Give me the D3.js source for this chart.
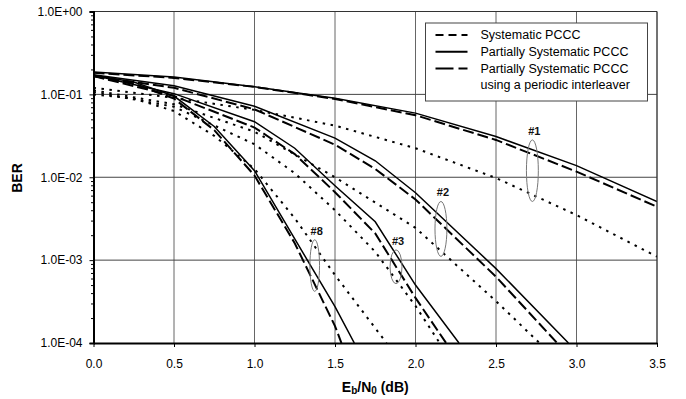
<!DOCTYPE html>
<html>
<head>
<meta charset="utf-8">
<script src="https://cdn.jsdelivr.net/npm/d3@7"></script>
<style>
  html, body { margin: 0; padding: 0; background: #fff; }
  svg { display: block; font-family: "Liberation Sans", Arial, sans-serif; }
</style>
</head>
<body>
<div id="chart"></div>
<script>
// Eb/N0 (dB) and BER, one pair of arrays per curve
const ebn0_1 = [0, 0.5, 1.0, 1.5, 2.0, 2.5, 3.0, 3.5];
const ber1Solid = [0.186, 0.162, 0.124, 0.090, 0.0594, 0.031, 0.0138, 0.0051];
const ber1Dash = [0.182, 0.158, 0.123, 0.088, 0.056, 0.0282, 0.0117, 0.0044];
const ber1Sys = [0.12, 0.091, 0.065, 0.042, 0.0224, 0.0098, 0.0035, 0.0011];

const ebn0_2Solid = [0, 0.5, 1.0, 1.5, 1.75, 2.0, 2.5, 2.95];
const ber2Solid = [0.172, 0.127, 0.072, 0.0297, 0.0158, 0.0065, 0.00079, 0.0001];
const ebn0_2Dash = [0, 0.5, 1.0, 1.5, 1.75, 2.0, 2.5, 2.88];
const ber2Dash = [0.166, 0.12, 0.066, 0.0247, 0.0126, 0.0054, 0.00063, 0.0001];
const ebn0_2Sys = [0, 0.5, 1.0, 1.5, 2.0, 2.5, 2.77];
const ber2Sys = [0.112, 0.076, 0.0355, 0.010, 0.00245, 0.00032, 0.0001];

const ebn0_3Solid = [0, 0.5, 1.0, 1.25, 1.5, 1.75, 2.0, 2.27];
const ber3Solid = [0.17, 0.102, 0.0468, 0.0224, 0.0079, 0.0029, 0.0005, 0.0001];
const ebn0_3Dash = [0, 0.5, 1.0, 1.25, 1.5, 1.75, 2.0, 2.19];
const ber3Dash = [0.166, 0.0955, 0.0398, 0.019, 0.0066, 0.0021, 0.00035, 0.0001];
const ebn0_3Sys = [0, 0.5, 1.0, 1.25, 1.5, 1.75, 2.0, 2.15];
const ber3Sys = [0.107, 0.071, 0.025, 0.0112, 0.004, 0.00126, 0.00028, 0.0001];

const ebn0_8Solid = [0, 0.25, 0.5, 0.75, 1.0, 1.25, 1.5, 1.62];
const ber8Solid = [0.17, 0.141, 0.0955, 0.041, 0.012, 0.0018, 0.000275, 0.0001];
const ebn0_8Dash = [0, 0.25, 0.5, 0.75, 1.0, 1.25, 1.5, 1.54];
const ber8Dash = [0.166, 0.135, 0.089, 0.037, 0.0105, 0.0016, 0.00016, 0.0001];
const ebn0_8Sys = [0, 0.25, 0.5, 0.75, 1.0, 1.25, 1.5, 1.82];
const ber8Sys = [0.1, 0.089, 0.063, 0.0316, 0.0126, 0.0032, 0.00066, 0.0001];

const xTicks = [0, 0.5, 1.0, 1.5, 2.0, 2.5, 3.0, 3.5];
const yTicks = [1, 1e-1, 1e-2, 1e-3, 1e-4];
const legendLabels = ['Systematic PCCC', 'Partially Systematic PCCC', 'Partially Systematic PCCC', 'using a periodic interleaver'];

// ellipse annotations: label, centre Eb/N0, half width (dB), top and bottom BER
const markLabels = ['#1', '#2', '#3', '#8'];
const markX = [2.726, 2.158, 1.879, 1.374];
const markHalfW = [0.037, 0.037, 0.037, 0.03];
const markTop = [0.0282, 0.0051, 0.00133, 0.00176];
const markBottom = [0.0051, 0.00111, 0.00052, 0.00042];

const styles = {
  solid: { dash: null, width: 1.5 },
  dash: { dash: '11,4', width: 2 },
  sys: { dash: '2.5,5.5', width: 2 }
};

const series = [
  { x: ebn0_1, y: ber1Sys, style: 'sys' },
  { x: ebn0_2Sys, y: ber2Sys, style: 'sys' },
  { x: ebn0_3Sys, y: ber3Sys, style: 'sys' },
  { x: ebn0_8Sys, y: ber8Sys, style: 'sys' },
  { x: ebn0_1, y: ber1Dash, style: 'dash' },
  { x: ebn0_2Dash, y: ber2Dash, style: 'dash' },
  { x: ebn0_3Dash, y: ber3Dash, style: 'dash' },
  { x: ebn0_8Dash, y: ber8Dash, style: 'dash' },
  { x: ebn0_1, y: ber1Solid, style: 'solid' },
  { x: ebn0_2Solid, y: ber2Solid, style: 'solid' },
  { x: ebn0_3Solid, y: ber3Solid, style: 'solid' },
  { x: ebn0_8Solid, y: ber8Solid, style: 'solid' }
];

const width = 686;
const height = 399;
const margin = { top: 11.5, right: 29, bottom: 56, left: 93.5 };
const innerWidth = width - margin.left - margin.right;
const innerHeight = height - margin.top - margin.bottom;

const svg = d3.select('#chart')
  .append('svg')
  .attr('width', width)
  .attr('height', height)
  .append('g')
  .attr('transform', `translate(${margin.left},${margin.top})`);

const xScale = d3.scaleLinear().domain([0, 3.5]).range([0, innerWidth]);
const yScale = d3.scaleLog().domain([1e-4, 1]).range([innerHeight, 0]);

svg.append('defs').append('clipPath')
  .attr('id', 'plot-clip')
  .append('rect')
  .attr('width', innerWidth)
  .attr('height', innerHeight);

// grid
svg.append('g')
  .selectAll('line')
  .data(xTicks.slice(1))
  .enter()
  .append('line')
  .attr('x1', d => xScale(d)).attr('x2', d => xScale(d))
  .attr('y1', 0).attr('y2', innerHeight)
  .attr('stroke', '#666')
  .attr('stroke-width', 1);

svg.append('g')
  .selectAll('line')
  .data(yTicks.slice(0, 4))
  .enter()
  .append('line')
  .attr('x1', 0).attr('x2', innerWidth)
  .attr('y1', d => yScale(d)).attr('y2', d => yScale(d))
  .attr('stroke', '#444')
  .attr('stroke-width', 1);

// curves
const line = d3.line()
  .x(d => xScale(d[0]))
  .y(d => yScale(d[1]));

svg.append('g')
  .attr('clip-path', 'url(#plot-clip)')
  .selectAll('path')
  .data(series)
  .enter()
  .append('path')
  .attr('d', d => line(d.x.map((v, i) => [v, d.y[i]])))
  .attr('fill', 'none')
  .attr('stroke', '#000')
  .attr('stroke-width', d => styles[d.style].width)
  .attr('stroke-dasharray', d => styles[d.style].dash);

// ellipses and their labels
const marks = svg.append('g')
  .selectAll('g')
  .data(markLabels)
  .enter()
  .append('g');

marks.append('ellipse')
  .attr('cx', (d, i) => xScale(markX[i]))
  .attr('cy', (d, i) => (yScale(markTop[i]) + yScale(markBottom[i])) / 2)
  .attr('rx', (d, i) => xScale(markHalfW[i]) - xScale(0))
  .attr('ry', (d, i) => (yScale(markBottom[i]) - yScale(markTop[i])) / 2)
  .attr('fill', 'none')
  .attr('stroke', '#777')
  .attr('stroke-width', 1);

marks.append('text')
  .attr('x', (d, i) => xScale(markX[i]) + 2)
  .attr('y', (d, i) => yScale(markTop[i]) - 5)
  .attr('text-anchor', 'middle')
  .attr('font-size', '11px')
  .attr('font-weight', 'bold')
  .attr('fill', '#111')
  .text(d => d);

// frame (top and right)
svg.append('line')
  .attr('x1', 0).attr('x2', innerWidth).attr('y1', 0).attr('y2', 0)
  .attr('stroke', '#333');
svg.append('line')
  .attr('x1', innerWidth).attr('x2', innerWidth).attr('y1', 0).attr('y2', innerHeight)
  .attr('stroke', '#333');

// axes
const minorTicks = [];
yTicks.slice(1).forEach(d => {
  for (let k = 2; k <= 9; k++) minorTicks.push(d * k);
});

svg.append('g')
  .call(d3.axisLeft(yScale).tickValues(minorTicks).tickSize(2.5).tickFormat(''))
  .call(g => g.select('.domain').remove())
  .call(g => g.selectAll('text').remove());

const yAxis = svg.append('g')
  .call(d3.axisLeft(yScale)
    .tickValues(yTicks)
    .tickSize(4)
    .tickPadding(7)
    .tickFormat(d => {
      const e = Math.round(Math.log10(d));
      return '1.0E' + (e < 0 ? '-' : '+') + String(Math.abs(e)).padStart(2, '0');
    }));
yAxis.select('.domain').attr('stroke-width', 2);
yAxis.selectAll('text').attr('font-size', '12px').attr('fill', '#000');

const xAxis = svg.append('g')
  .attr('transform', `translate(0,${innerHeight})`)
  .call(d3.axisBottom(xScale)
    .tickValues(xTicks)
    .tickSize(4)
    .tickSizeOuter(0)
    .tickPadding(12.5)
    .tickFormat(d3.format('.1f')));
xAxis.select('.domain').attr('stroke-width', 2);
xAxis.selectAll('text').attr('font-size', '12px').attr('fill', '#000');

// axis titles
svg.append('text')
  .attr('transform', 'rotate(-90)')
  .attr('x', -(178 - margin.top))
  .attr('y', 22 - margin.left)
  .attr('text-anchor', 'middle')
  .attr('font-size', '14px')
  .attr('font-weight', 'bold')
  .text('BER');

const xTitle = svg.append('text')
  .attr('x', innerWidth / 2)
  .attr('y', innerHeight + 48.5)
  .attr('text-anchor', 'middle')
  .attr('font-size', '14px')
  .attr('font-weight', 'bold');
xTitle.append('tspan').text('E');
xTitle.append('tspan').attr('font-size', '10px').attr('dy', 2.5).text('b');
xTitle.append('tspan').attr('dy', -2.5).text('/N');
xTitle.append('tspan').attr('font-size', '10px').attr('dy', 2.5).text('0');
xTitle.append('tspan').attr('dy', -2.5).text(' (dB)');

// legend
const legend = svg.append('g')
  .attr('transform', `translate(${425.5 - margin.left},${23 - margin.top})`);

legend.append('rect')
  .attr('width', 222)
  .attr('height', 78)
  .attr('fill', '#fff')
  .attr('stroke', '#444')
  .attr('stroke-width', 1);

const legendDash = ['8,5', null, '18,5'];
legend.selectAll('.legend-line')
  .data(legendDash)
  .enter()
  .append('line')
  .attr('class', 'legend-line')
  .attr('x1', 10).attr('x2', 42)
  .attr('y1', (d, i) => 12 + i * 16.7)
  .attr('y2', (d, i) => 12 + i * 16.7)
  .attr('stroke', '#000')
  .attr('stroke-width', 2)
  .attr('stroke-dasharray', d => d);

legend.selectAll('.legend-text')
  .data(legendLabels)
  .enter()
  .append('text')
  .attr('class', 'legend-text')
  .attr('x', 55)
  .attr('y', (d, i) => 16 + i * 16.8)
  .attr('font-size', '12.5px')
  .attr('fill', '#000')
  .text(d => d);
</script>
</body>
</html>
